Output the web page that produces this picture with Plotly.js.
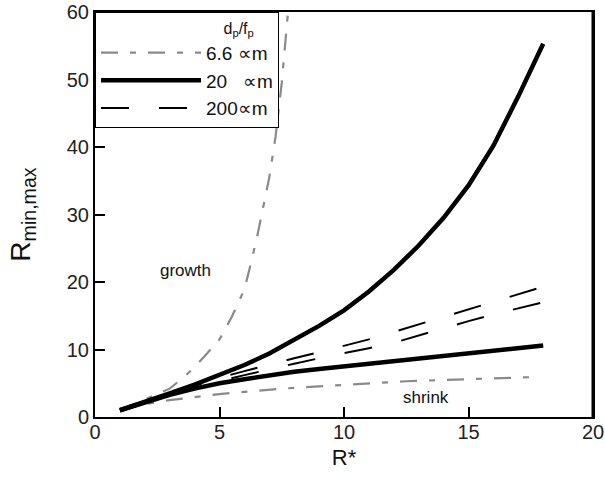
<!DOCTYPE html>
<html>
<head>
<meta charset="utf-8">
<script src="https://cdn.plot.ly/plotly-3.0.1.min.js"></script>
<style>html,body{margin:0;padding:0;background:#fff;overflow:hidden;}#chart{width:605px;height:479px;}</style>
</head>
<body>
<div id="chart"></div>
<script>
// R* values
const xGrowth66 = [1, 2, 2.67, 3, 3.6, 4, 4.4, 5, 5.5, 6, 6.25, 6.5, 6.75, 7, 7.25, 7.5, 7.8];
const yGrowth66 = [1, 2.6, 3.6, 4.2, 6.0, 7.4, 9.0, 11.5, 14.9, 18.9, 22.6, 26.5, 31, 35.5, 41.5, 49.5, 62];
const xShrink66 = [1, 2, 3, 5, 7.5, 10, 12.5, 15, 17.5];
const yShrink66 = [1, 1.9, 2.5, 3.4, 4.2, 4.8, 5.3, 5.6, 5.9];

const xR = [1, 2, 3, 4, 5, 6, 7, 8, 9, 10, 11, 12, 13, 14, 15, 16, 17, 18];
const yGrowth20 = [1, 2.2, 3.5, 4.8, 6.2, 7.7, 9.4, 11.4, 13.5, 15.8, 18.6, 21.8, 25.4, 29.5, 34.3, 40.2, 47.5, 55.3];
const yShrink20 = [1, 2.2, 3.3, 4.2, 5.0, 5.6, 6.2, 6.7, 7.1, 7.5, 7.9, 8.3, 8.7, 9.1, 9.5, 9.9, 10.25, 10.6];
const yGrowth200 = [1, 2.2, 3.4, 4.6, 5.8, 6.8, 7.8, 8.7, 9.6, 10.5, 11.5, 12.6, 13.7, 14.8, 15.9, 17.1, 18.2, 19.3];
const yShrink200 = [1, 2.1, 3.2, 4.3, 5.3, 6.2, 7.1, 7.9, 8.7, 9.4, 10.2, 11.0, 12.1, 13.2, 14.2, 15.2, 16.1, 17.0];

const legendNames = ['6.6 \u221dm', '20\u00a0\u00a0\u00a0\u221dm', '200\u221dm'];
const xTicks = [0, 5, 10, 15, 20];
const yTicks = [0, 10, 20, 30, 40, 50, 60];

const grayDD = {color: '#8a8a8a', width: 2.2, dash: '17px,12px,6px,12px'};
const thick = {color: '#000', width: 4.5};
const longDash = {color: '#000', width: 2, dash: '28px,30px'};

const traces = [
  {x: xGrowth66, y: yGrowth66, mode: 'lines', line: grayDD, name: legendNames[0], legendgroup: 'a'},
  {x: xShrink66, y: yShrink66, mode: 'lines', line: grayDD, name: legendNames[0], legendgroup: 'a', showlegend: false},
  {x: xR, y: yGrowth20, mode: 'lines', line: thick, name: legendNames[1], legendgroup: 'b'},
  {x: xR, y: yShrink20, mode: 'lines', line: thick, name: legendNames[1], legendgroup: 'b', showlegend: false},
  {x: xR, y: yGrowth200, mode: 'lines', line: longDash, name: legendNames[2], legendgroup: 'c'},
  {x: xR, y: yShrink200, mode: 'lines', line: longDash, name: legendNames[2], legendgroup: 'c', showlegend: false}
];

const fontFam = 'Liberation Sans, Arial, sans-serif';
const layout = {
  width: 605, height: 479,
  margin: {l: 95, r: 12, t: 12, b: 62},
  paper_bgcolor: '#fff', plot_bgcolor: '#fff',
  font: {family: fontFam, color: '#222'},
  showlegend: true,
  legend: {
    x: 0, y: 1, xanchor: 'left', yanchor: 'top',
    bgcolor: '#fff', bordercolor: '#000', borderwidth: 1,
    font: {size: 19, color: '#111'},
    itemwidth: 100,
    tracegroupgap: 0,
    title: {text: 'd<sub>p</sub>/f<sub>p</sub>\u00a0\u00a0\u00a0\u00a0\u00a0', side: 'top right', font: {size: 16, color: '#111'}}
  },
  xaxis: {
    range: [0, 20], tickvals: xTicks, ticktext: xTicks.map(String),
    ticks: 'inside', ticklen: 10, tickwidth: 2, tickcolor: '#000',
    ticklabeloverflow: 'allow', ticklabelstandoff: -4,
    showline: true, linecolor: '#000', linewidth: 2, mirror: true,
    showgrid: false, zeroline: false,
    tickfont: {size: 20, color: '#222'},
    title: {text: 'R*', font: {size: 22, color: '#111'}, standoff: 8}
  },
  yaxis: {
    range: [0, 60], tickvals: yTicks, ticktext: yTicks.map(String),
    ticks: 'inside', ticklen: 10, tickwidth: 2, tickcolor: '#000',
    showline: true, linecolor: '#000', linewidth: 2, mirror: true,
    showgrid: false, zeroline: false,
    tickfont: {size: 20, color: '#222'},
    title: {text: 'R<sub>min,max</sub>', font: {size: 28, color: '#111'}, standoff: 28}
  },
  shapes: [
    {type: 'line', xref: 'paper', yref: 'paper', x0: 1, x1: 1, y0: 0, y1: 1, line: {color: '#000', width: 3}, layer: 'above'}
  ],
  annotations: [
    {x: 3.65, y: 21.7, xref: 'x', yref: 'y', text: 'growth', showarrow: false, font: {size: 17, color: '#111'}},
    {x: 13.3, y: 2.9, xref: 'x', yref: 'y', text: 'shrink', showarrow: false, font: {size: 17, color: '#111'}}
  ]
};

Plotly.newPlot('chart', traces, layout, {displayModeBar: false, staticPlot: true});
</script>
</body>
</html>
